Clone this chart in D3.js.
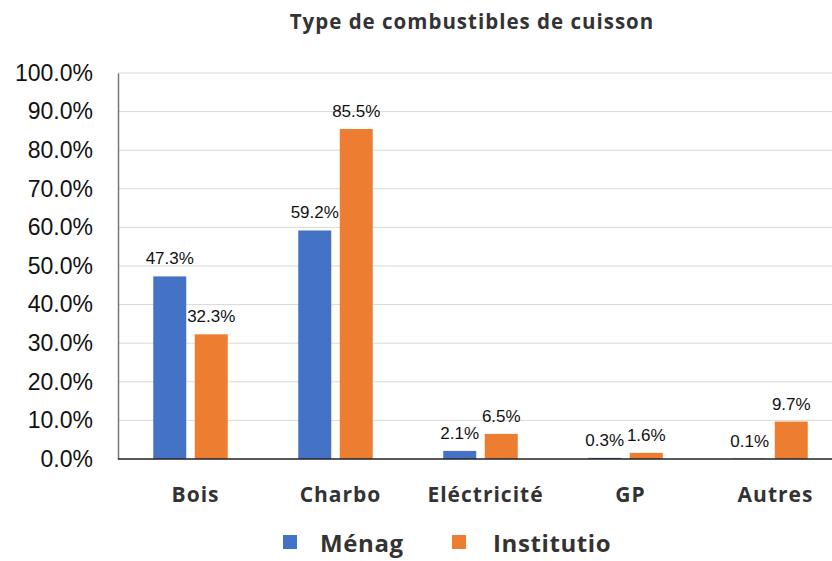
<!DOCTYPE html>
<html>
<head>
<meta charset="utf-8">
<script src="https://cdn.jsdelivr.net/npm/d3@7"></script>
<style>
  body { margin: 0; background: #fff; }
  svg { display: block; }
</style>
</head>
<body>
<div id="chart"></div>
<script>
// categories and series
var categories = ["Bois", "Charbo", "Eléctricité", "GP", "Autres"];
var seriesNames = ["Ménag", "Institutio"];
var menagValues = [47.3, 59.2, 2.1, 0.3, 0.1];
var institutioValues = [32.3, 85.5, 6.5, 1.6, 9.7];
var yTicks = [0, 10, 20, 30, 40, 50, 60, 70, 80, 90, 100];
var colors = ["#4472C4", "#ED7D31"];

var width = 832, height = 561;
var margin = { top: 73, left: 118, bottom: 102 };
var plotRight = 843; // the plot runs a little past the right edge

var svg = d3.select("#chart")
    .append("svg")
    .attr("width", width)
    .attr("height", height);

// title
svg.append("text")
    .attr("x", 472)
    .attr("y", 29)
    .attr("text-anchor", "middle")
    .style("font-family", "'Open Sans', sans-serif")
    .style("font-weight", "bold")
    .style("font-size", "20.5px")
    .style("letter-spacing", "1px")
    .style("fill", "#333")
    .text("Type de combustibles de cuisson");

var y = d3.scaleLinear()
    .domain([0, 100])
    .range([height - margin.bottom, margin.top]);

var x0 = d3.scaleBand()
    .domain(categories)
    .range([margin.left, plotRight]);

var x1 = d3.scaleBand()
    .domain(seriesNames)
    .range([35.25, 109.75])
    .paddingInner(0.205);

// gridlines
svg.append("g")
    .selectAll("line")
    .data(yTicks.slice(1))
    .enter()
    .append("line")
    .attr("x1", margin.left)
    .attr("x2", plotRight)
    .attr("y1", function(d) { return y(d); })
    .attr("y2", function(d) { return y(d); })
    .attr("stroke", "#d9d9d9")
    .attr("stroke-width", 1);

// y axis
var yaxis = svg.append("g")
    .attr("transform", "translate(" + margin.left + ",0)")
    .call(d3.axisLeft(y).tickValues(yTicks).tickSize(0).tickPadding(25)
        .tickFormat(function(d) { return d.toFixed(1) + "%"; }));
yaxis.select(".domain").attr("stroke", "#777").attr("stroke-width", 1.5);
yaxis.selectAll("text")
    .style("font-family", "'Liberation Sans', Arial, sans-serif")
    .style("font-size", "23px")
    .style("fill", "#111");

// rows of data for the bars
var rows = [];
for (var i = 0; i < categories.length; i++) {
    rows.push({ cat: categories[i], series: seriesNames[0], value: menagValues[i], color: colors[0] });
    rows.push({ cat: categories[i], series: seriesNames[1], value: institutioValues[i], color: colors[1] });
}

svg.append("g")
    .selectAll("rect")
    .data(rows)
    .enter()
    .append("rect")
    .attr("x", function(d) { return x0(d.cat) + x1(d.series); })
    .attr("y", function(d) { return y(d.value); })
    .attr("width", x1.bandwidth())
    .attr("height", function(d) { return y(0) - y(d.value); })
    .attr("fill", function(d) { return d.color; });

// value labels
svg.append("g")
    .selectAll("text")
    .data(rows)
    .enter()
    .append("text")
    .attr("x", function(d) { return x0(d.cat) + x1(d.series) + x1.bandwidth() / 2; })
    .attr("y", function(d) { return y(d.value) - 12; })
    .attr("text-anchor", "middle")
    .style("font-family", "'Liberation Sans', Arial, sans-serif")
    .style("font-size", "17px")
    .style("fill", "#111")
    .text(function(d) { return d.value.toFixed(1) + "%"; });

// baseline
svg.append("line")
    .attr("x1", margin.left)
    .attr("x2", plotRight)
    .attr("y1", y(0))
    .attr("y2", y(0))
    .attr("stroke", "#222")
    .attr("stroke-width", 1.5);

// category labels
svg.append("g")
    .selectAll("text")
    .data(categories)
    .enter()
    .append("text")
    .attr("x", function(d) { return x0(d) + x0.bandwidth() / 2 + 5; })
    .attr("y", 502)
    .attr("text-anchor", "middle")
    .style("font-family", "'Open Sans', sans-serif")
    .style("font-weight", "bold")
    .style("font-size", "21px")
    .style("letter-spacing", "1px")
    .style("fill", "#333")
    .text(function(d) { return d; });

// legend
var legendX = [283, 452];
var legend = svg.append("g")
    .selectAll("g")
    .data(seriesNames)
    .enter()
    .append("g")
    .attr("transform", function(d, i) { return "translate(" + legendX[i] + ",535)"; });
legend.append("rect")
    .attr("width", 14)
    .attr("height", 14)
    .attr("fill", function(d, i) { return colors[i]; });
legend.append("text")
    .attr("x", function(d, i) { return i === 0 ? 37 : 41; })
    .attr("y", 17)
    .style("font-family", "'Open Sans', sans-serif")
    .style("font-weight", "bold")
    .style("font-size", "24px")
    .style("letter-spacing", "0.6px")
    .style("fill", "#333")
    .text(function(d) { return d; });
</script>
</body>
</html>
